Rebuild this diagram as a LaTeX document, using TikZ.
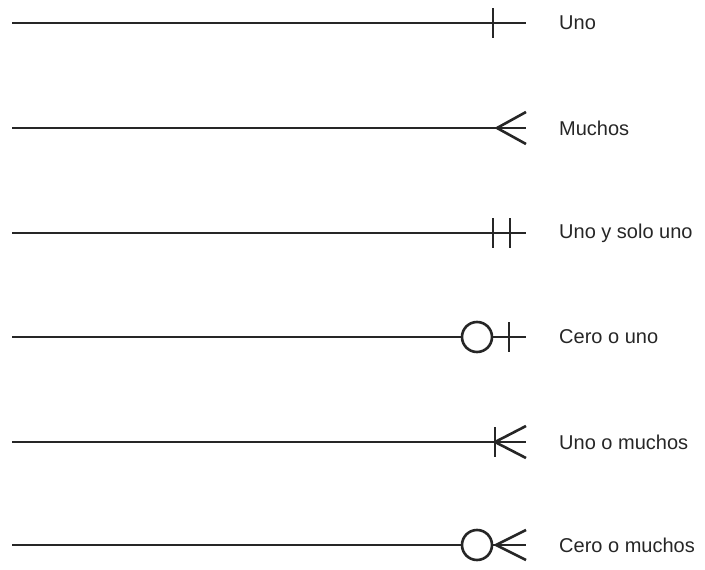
\documentclass[tikz,border=0pt]{standalone}
\usepackage{fontspec}
\setmainfont{Liberation Sans}
\begin{document}
\begin{tikzpicture}[x=1pt,y=-1pt,
  rel/.style={line width=2.6pt,black!85},
  lbl/.style={anchor=west,inner sep=0pt,text=black!85,font=\fontsize{20}{23}\selectfont}]
\useasboundingbox (0,0) rectangle (705,570);
% Six relationship ends, one per row
\foreach \i/\y/\t in {1/23/Uno,2/128/Muchos,3/233/Uno y solo uno,4/337/Cero o uno,5/442/Uno o muchos,6/545/Cero o muchos}{
  \coordinate (s\i) at (12,\y);
  \coordinate (e\i) at (526,\y);
  \node[lbl] (t\i) at (559,\y) {\t};
}
% Uno
\draw[rel] (s1) -- (e1);
\draw[rel] ([xshift=-33]e1) ++(0,-15) -- ++(0,30);
% Muchos
\draw[rel] (s2) -- (e2);
\draw[rel] ([yshift=-16]e2) -- ([xshift=-29]e2) -- ([yshift=16]e2);
% Uno y solo uno
\draw[rel] (s3) -- (e3);
\draw[rel] ([xshift=-33]e3) ++(0,-15) -- ++(0,30);
\draw[rel] ([xshift=-16]e3) ++(0,-15) -- ++(0,30);
% Cero o uno
\node[rel,draw,circle,minimum size=30pt,inner sep=0pt] (c4) at ([xshift=-49]e4) {};
\draw[rel] (s4) -- (c4.west);
\draw[rel] (c4.east) -- (e4);
\draw[rel] ([xshift=-17]e4) ++(0,-15) -- ++(0,30);
% Uno o muchos
\draw[rel] (s5) -- (e5);
\draw[rel] ([xshift=-31]e5) ++(0,-15) -- ++(0,30);
\draw[rel] ([yshift=-16]e5) -- ([xshift=-31]e5) -- ([yshift=16]e5);
% Cero o muchos
\node[rel,draw,circle,minimum size=30pt,inner sep=0pt] (c6) at ([xshift=-49]e6) {};
\draw[rel] (s6) -- (c6.west);
\draw[rel] (c6.east) -- (e6);
\draw[rel] ([yshift=-15]e6) -- ([xshift=-30]e6) -- ([yshift=15]e6);
\end{tikzpicture}
\end{document}
